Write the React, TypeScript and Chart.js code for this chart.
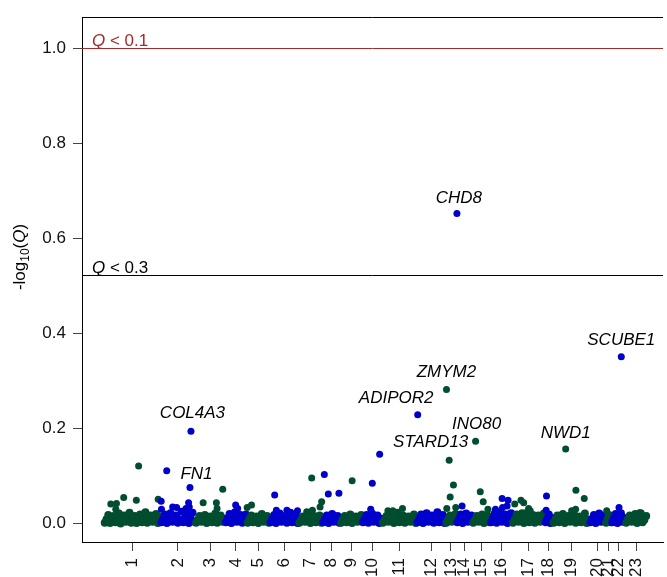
import React, { useEffect, useRef } from 'react';
import { Chart, registerables } from 'chart.js';

Chart.register(...registerables);

// ---------------- data ----------------
const chromosomes = ['1', '2', '3', '4', '5', '6', '7', '8', '9', '10', '11', '12', '13', '14', '15', '16', '17', '18', '19', '20', '21', '22', '23'];
// relative chromosome widths on the genome axis (arbitrary units)
const chromLengths = [57, 35, 30, 22, 23, 29, 24, 18, 22, 20, 35, 29, 11, 16, 18, 22, 33, 8, 37, 16, 6, 14, 22];

// background genes (-log10 Q, in units of 0.001), listed in order along each chromosome
const backgroundMilli: number[][] = [
  [2, 9, 18, 1, 8, 16, 3, 10, 21, 0, 7, 17, 4, 9, 23, 2, 11, 16, 1, 8, 19, 3, 10, 24, 2, 9, 17, 4, 8, 20, 1, 15],
  [3, 10, 19, 1, 9, 22, 4, 11, 17, 2, 8, 25, 3, 12, 20, 1, 10, 23, 4],
  [2, 8, 16, 4, 10, 18, 1, 9, 15, 3, 11, 21, 2, 8, 17, 4, 10],
  [3, 11, 20, 1, 9, 24, 4, 12, 18, 2, 10, 19],
  [2, 9, 17, 3, 8, 15, 1, 10, 20, 4, 9, 16, 2],
  [3, 10, 18, 1, 9, 21, 4, 11, 16, 2, 8, 23, 3, 10, 19, 1],
  [2, 8, 15, 4, 9, 18, 1, 10, 16, 3, 8, 17, 2],
  [3, 10, 17, 1, 9, 20, 4, 11, 16, 2],
  [2, 9, 16, 3, 8, 19, 1, 10, 15, 4, 9, 18],
  [3, 10, 18, 2, 11, 21, 4, 9, 17, 1, 10],
  [2, 8, 16, 4, 10, 20, 1, 9, 23, 3, 11, 17, 2, 8, 15, 4, 10, 19, 1],
  [3, 11, 19, 1, 9, 22, 4, 12, 17, 2, 10, 24, 3, 9, 18, 1],
  [2, 9, 17, 4, 10, 20],
  [3, 10, 19, 1, 9, 21, 4, 11, 17],
  [2, 8, 16, 4, 10, 19, 1, 9, 17, 3],
  [3, 11, 21, 2, 10, 24, 4, 12, 19, 1, 9, 22],
  [2, 9, 19, 4, 11, 22, 1, 10, 24, 3, 12, 18, 2, 8, 17, 4, 10, 21],
  [3, 10, 19, 1, 12],
  [2, 9, 17, 3, 10, 20, 1, 8, 16, 4, 11, 19, 2, 9, 15, 3, 10, 21, 1, 8],
  [3, 10, 18, 1, 11, 21, 4, 9, 17],
  [2, 9, 18, 3],
  [3, 11, 20, 1, 10, 22, 4, 12],
  [2, 9, 17, 4, 10, 20, 1, 11, 22, 3, 8, 16],
];

// genes standing above the background
const peakChrom = [
  1, 1, 1, 1, 1, 1, 1,
  2, 2, 2, 2, 2, 2, 2, 2, 2, 2,
  3, 3, 3, 3,
  4, 4,
  5, 5,
  6, 6, 6, 6,
  7, 7, 7, 7, 7,
  8, 8, 8,
  9,
  10, 10, 10,
  11, 11, 11,
  12,
  13, 13, 13, 13, 13, 13,
  14, 14,
  15, 15, 15, 15,
  16, 16, 16, 16, 16,
  17, 17, 17, 17, 17,
  18, 18,
  19, 19, 19, 19, 19,
  21,
  22, 22,
  23,
];
const peakPos = [
  35, 20, 32.7, 7, 12.7, 12, 54.7,
  6.3, 0.7, 1, 12.3, 16.3, 28.3, 29.7, 30.7, 25.7, 29,
  8, 21.3, 22, 27.7,
  10.7, 12.7,
  0.3, 4.7,
  5, 6.7, 17.3, 28,
  8.3, 13.3, 14, 21.7, 23.3,
  2, 6, 16.7,
  12,
  10.3, 17.7, 8.7,
  20.7, 6, 11,
  1,
  1, 3.7, 8, 4.7, 1.3, 10.3,
  0.5, 5.7,
  3.3, 8, 11, 15.7,
  12, 18, 5.3, 12.5, 17,
  2.7, 9, 11.7, 16.7, 18.3,
  1.7, 1.3,
  13, 23.3, 31.7, 19, 23,
  1.3,
  7.7, 10,
  14.3,
];
const peakValue = [
  0.121, 0.055, 0.049, 0.041, 0.042, 0.030, 0.051,
  0.111, 0.047, 0.030, 0.035, 0.034, 0.044, 0.076, 0.194, 0.032, 0.035,
  0.044, 0.044, 0.032, 0.072,
  0.039, 0.032,
  0.034, 0.039,
  0.060, 0.028, 0.028, 0.027,
  0.025, 0.096, 0.028, 0.035, 0.046,
  0.103, 0.062, 0.064,
  0.090,
  0.085, 0.146, 0.030,
  0.032, 0.027, 0.027,
  0.229,
  0.282, 0.133, 0.081, 0.056, 0.032, 0.034,
  0.652, 0.037,
  0.173, 0.067, 0.046, 0.030,
  0.053, 0.049, 0.030, 0.034, 0.037,
  0.041, 0.049, 0.044, 0.032, 0.027,
  0.058, 0.028,
  0.157, 0.070, 0.053, 0.027, 0.030,
  0.027,
  0.034, 0.351,
  0.023,
];
const peakGene = [
  '', '', '', '', '', '', '',
  '', '', '', '', '', '', 'FN1', 'COL4A3', '', '',
  '', '', '', '',
  '', '',
  '', '',
  '', '', '', '',
  '', '', '', '', '',
  '', '', '',
  '',
  '', '', '',
  '', '', '',
  'ADIPOR2',
  'ZMYM2', 'STARD13', '', '', '', '',
  'CHD8', '',
  'INO80', '', '', '',
  '', '', '', '', '',
  '', '', '', '', '',
  '', '',
  'NWD1', '', '', '', '',
  '',
  '', 'SCUBE1',
  '',
];

// label placement (pixel offsets of label centre/baseline from its point)
const labelGenes = ['CHD8', 'SCUBE1', 'ZMYM2', 'ADIPOR2', 'COL4A3', 'INO80', 'STARD13', 'NWD1', 'FN1'];
const labelDx = [2, 0, 0, -21.5, 1.5, 1, -18.5, 0, 6.5];
const labelDy = [-11, -12, -12, -12, -13, -12, -13, -11, -8];

const yTicks = [0, 0.2, 0.4, 0.6, 0.8, 1.0];
const qThresholds = [0.1, 0.3];
const qThresholdText = ['0.1', '0.3'];
const qThresholdColors = ['#a52a2a', '#000000'];

const GREEN = '#004d2f';
const BLUE = '#0000cc';
const FONT = "'Liberation Sans', Arial, Helvetica, sans-serif";

// ---------------- derived ----------------
const chromStarts: number[] = [];
{
  let acc = 0;
  chromLengths.forEach((l) => {
    chromStarts.push(acc);
    acc += l;
  });
}
const chromMids = chromLengths.map((l, i) => chromStarts[i] + l / 2);

function buildPoints() {
  const pts: { x: number; y: number }[] = [];
  const cols: string[] = [];
  const radii: number[] = [];
  chromosomes.forEach((_, ci) => {
    const col = ci % 2 === 0 ? GREEN : BLUE;
    const bg = backgroundMilli[ci];
    bg.forEach((m, i) => {
      pts.push({ x: chromStarts[ci] + ((i + 0.5) * chromLengths[ci]) / bg.length, y: m / 1000 });
      cols.push(col);
      radii.push(4);
    });
    peakChrom.forEach((pc, k) => {
      if (pc === ci + 1) {
        pts.push({ x: chromStarts[ci] + peakPos[k], y: peakValue[k] });
        cols.push(col);
        radii.push(3.5);
      }
    });
  });
  return { pts, cols, radii };
}

const overlayPlugin = {
  id: 'overlay',
  afterDraw(chart: any) {
    const { ctx, chartArea, scales } = chart;
    const xs = scales.x;
    const ys = scales.y;
    ctx.save();
    ctx.lineWidth = 1;
    // top frame line
    const ty = Math.round(chartArea.top) + 0.5;
    ctx.strokeStyle = '#000';
    ctx.beginPath();
    ctx.moveTo(chartArea.left, ty);
    ctx.lineTo(chartArea.right, ty);
    ctx.stroke();

    // thresholds
    qThresholds.forEach((q, i) => {
      const y = Math.round(ys.getPixelForValue(-Math.log10(q))) + 0.5;
      ctx.strokeStyle = qThresholdColors[i];
      ctx.beginPath();
      ctx.moveTo(chartArea.left, y);
      ctx.lineTo(chartArea.right, y);
      ctx.stroke();
      ctx.fillStyle = qThresholdColors[i];
      ctx.textAlign = 'left';
      ctx.textBaseline = 'alphabetic';
      let x = chartArea.left + 10;
      ctx.font = `italic 17px ${FONT}`;
      ctx.fillText('Q', x, y - 2.5);
      x += ctx.measureText('Q').width;
      ctx.font = `17px ${FONT}`;
      ctx.fillText(' < ' + qThresholdText[i], x, y - 2.5);
    });

    // gene labels
    ctx.fillStyle = '#000';
    ctx.font = `italic 17px ${FONT}`;
    ctx.textAlign = 'center';
    ctx.textBaseline = 'alphabetic';
    labelGenes.forEach((g, li) => {
      const k = peakGene.indexOf(g);
      if (k < 0) return;
      const ci = peakChrom[k] - 1;
      const px = xs.getPixelForValue(chromStarts[ci] + peakPos[k]);
      const py = ys.getPixelForValue(peakValue[k]);
      ctx.fillText(g, px + labelDx[li], py + labelDy[li]);
    });

    // y axis title: -log10(Q)
    ctx.save();
    ctx.translate(25, 257);
    ctx.rotate(-Math.PI / 2);
    ctx.textAlign = 'left';
    ctx.fillStyle = '#000';
    const parts: [string, string, number][] = [
      ['-log', `17px ${FONT}`, 0],
      ['10', `12px ${FONT}`, 4],
      ['(', `17px ${FONT}`, 0],
      ['Q', `italic 17px ${FONT}`, 0],
      [')', `17px ${FONT}`, 0],
    ];
    let total = 0;
    parts.forEach(([t, f]) => {
      ctx.font = f;
      total += ctx.measureText(t).width;
    });
    let cx = -total / 2;
    parts.forEach(([t, f, dy]) => {
      ctx.font = f;
      ctx.fillText(t, cx, dy);
      cx += ctx.measureText(t).width;
    });
    ctx.restore();

    ctx.restore();
  },
};

export default function App() {
  const ref = useRef<HTMLCanvasElement | null>(null);

  useEffect(() => {
    if (!ref.current) return;
    const { pts, cols, radii } = buildPoints();
    const chart = new Chart(ref.current, {
      type: 'scatter',
      data: {
        datasets: [
          {
            data: pts,
            pointBackgroundColor: cols,
            pointBorderWidth: 0,
            pointRadius: radii,
            pointHoverRadius: radii,
          },
        ],
      },
      options: {
        animation: false,
        responsive: false,
        events: [],
        layout: { padding: { top: 15, right: 0, left: 0, bottom: 0 } },
        plugins: { legend: { display: false }, tooltip: { enabled: false } },
        scales: {
          x: {
            type: 'linear',
            min: -22,
            max: 563,
            afterBuildTicks: (scale: any) => {
              scale.ticks = chromMids.map((v) => ({ value: v }));
            },
            afterFit: (scale: any) => {
              scale.height = 35;
            },
            ticks: {
              autoSkip: false,
              minRotation: 90,
              maxRotation: 90,
              padding: 7,
              color: '#111',
              font: { family: FONT, size: 17 },
              callback: (_v: any, i: number) => chromosomes[i],
            },
            grid: { drawOnChartArea: false, drawTicks: true, tickLength: 9, color: '#444' },
            border: { display: true, color: '#000', width: 1 },
          },
          y: {
            type: 'linear',
            min: -0.0387,
            max: 1.0649,
            afterBuildTicks: (scale: any) => {
              scale.ticks = yTicks.map((v) => ({ value: v }));
            },
            afterFit: (scale: any) => {
              scale.width = 82;
            },
            ticks: {
              padding: 7,
              color: '#111',
              font: { family: FONT, size: 17 },
              callback: (v: any) => Number(v).toFixed(1),
            },
            grid: { drawOnChartArea: false, drawTicks: true, tickLength: 9, color: '#444' },
            border: { display: true, color: '#000', width: 1 },
          },
        },
      },
      plugins: [overlayPlugin],
    });
    return () => chart.destroy();
  }, []);

  return (
    <div style={{ position: 'fixed', left: 0, top: 0, width: 667, height: 577, background: '#fff', overflow: 'hidden' }}>
      <canvas ref={ref} width={667} height={577} />
    </div>
  );
}
